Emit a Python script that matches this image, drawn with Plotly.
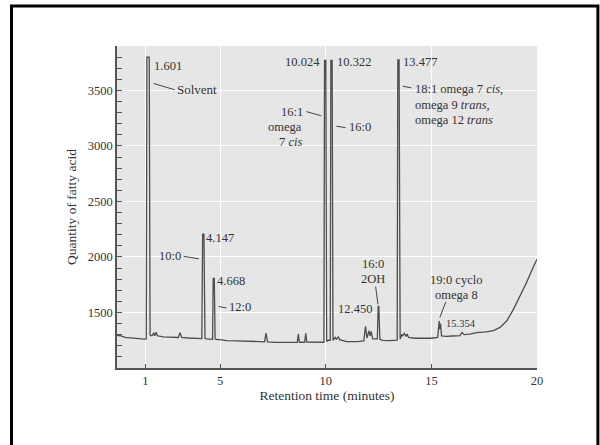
import plotly.graph_objects as go

# ---- data ----
time_min = [0.11, 0.3, 0.5, 0.8, 1.1, 1.40, 1.50,
            1.53, 1.64, 1.68, 1.72,
            1.80, 1.85, 1.90, 1.97, 2.03, 2.3, 2.7, 3.02, 3.10, 3.18, 3.5, 3.9, 4.13,
            4.17, 4.23, 4.28,
            4.35, 4.5, 4.64,
            4.67, 4.72, 4.76,
            4.85, 5.0, 5.3, 5.8, 6.3, 6.9, 7.1, 7.17, 7.24, 7.6, 8.0, 8.4, 8.65, 8.7, 8.75,
            9.0, 9.05, 9.1, 9.5, 9.91,
            9.94, 10.00, 10.04,
            10.12, 10.21,
            10.24, 10.30, 10.34,
            10.45, 10.5, 10.6, 10.65, 11.0, 11.5, 11.8, 11.88, 11.95, 12.05, 12.1, 12.15,
            12.22, 12.35, 12.44,
            12.48, 12.51, 12.56,
            12.7, 13.0, 13.35, 13.38,
            13.41, 13.47, 13.52,
            13.6, 13.65, 13.72, 13.8, 13.85, 13.92, 14.2, 14.6, 15.0, 15.3,
            15.37, 15.40, 15.43, 15.48,
            15.7, 16.0, 16.35, 16.45, 16.55, 16.8, 17.15, 17.6, 17.94, 18.25, 18.57,
            18.89, 19.2, 19.5, 19.84, 20.0]
quantity = [1295, 1290, 1275, 1268, 1262, 1260, 1262,
            3800, 3800, 1300, 1290,
            1295, 1318, 1290, 1322, 1290, 1280, 1278, 1275, 1318, 1276, 1270, 1268, 1265,
            2206, 2206, 1268,
            1262, 1260, 1258,
            1808, 1808, 1262,
            1255, 1255, 1246, 1245, 1240, 1235, 1236, 1315, 1236, 1230, 1228, 1228, 1230, 1305, 1232,
            1232, 1312, 1234, 1232, 1232,
            3770, 3770, 1240,
            1250, 1250,
            3770, 3770, 1250,
            1275, 1260, 1280, 1255, 1238, 1238, 1245, 1375, 1270, 1335, 1290, 1330,
            1262, 1260, 1262,
            1554, 1554, 1258,
            1248, 1246, 1248, 1250,
            3775, 3775, 1260,
            1300, 1290, 1312, 1285, 1305, 1275, 1268, 1268, 1268, 1275,
            1422, 1350, 1400, 1290,
            1285, 1288, 1292, 1320, 1300, 1305, 1318, 1325, 1336, 1366, 1425,
            1530, 1648, 1768, 1917, 1980]

x_tick_vals = [1.46, 5, 10, 15, 20]
x_tick_text = ["1", "5", "10", "15", "20"]
y_tick_vals = [1500, 2000, 2500, 3000, 3500]
y_minor_vals = list(range(1000, 3901, 100))

# peak / compound labels
label_text = ["1.601", "Solvent", "10.024", "10.322", "13.477",
              "16:1", "omega", "7 <i>cis</i>", "16:0",
              "18:1 omega 7 <i>cis</i>,", "omega 9 <i>trans</i>,", "omega 12 <i>trans</i>",
              "10:0", "4.147", "4.668", "12:0",
              "16:0", "2OH", "12.450", "19:0 cyclo", "omega 8", "15.354"]
label_x = [1.80, 2.93, 9.76, 10.47, 13.61,
           8.97, 8.92, 8.92, 11.05,
           14.18, 14.18, 14.18,
           3.21, 4.30, 4.82, 5.37,
           12.24, 12.24, 12.24, 16.18, 16.18, 15.63]
label_y = [3721, 3512, 3759, 3759, 3759,
           3309, 3172, 3035, 3169,
           3510, 3373, 3236,
           2012, 2171, 1783, 1545,
           1935, 1798, 1530, 1792, 1655, 1402]
label_anchor = ["left", "left", "right", "left", "left",
                "right", "right", "right", "left",
                "left", "left", "left",
                "right", "left", "left", "left",
                "center", "center", "right", "center", "center", "left"]
label_size = [12.5, 13, 12.5, 12.5, 12.5,
              12.5, 12.5, 12.5, 12.5,
              12.5, 12.5, 12.5,
              12.5, 12.5, 12.5, 12.5,
              12.5, 12.5, 12.5, 12.5, 12.5, 10.5]

# leader lines: x0, y0, x1, y1
lead_x0 = [1.85, 9.08, 10.50, 13.65, 3.27, 4.93, 12.36, 15.68]
lead_y0 = [3562, 3309, 3178, 3538, 2006, 1554, 1733, 1595]
lead_x1 = [2.85, 9.79, 10.94, 14.05, 3.99, 5.29, 12.47, 15.40]
lead_y1 = [3506, 3271, 3164, 3523, 1983, 1541, 1574, 1455]

FONT = "Liberation Serif"
TXT = "#333333"

fig = go.Figure()
fig.add_trace(go.Scatter(x=time_min, y=quantity, mode="lines",
                         line=dict(color="#4d4d4d", width=1.3),
                         hoverinfo="skip", showlegend=False))

for t, x, y, a, s in zip(label_text, label_x, label_y, label_anchor, label_size):
    fig.add_annotation(x=x, y=y, xref="x", yref="y", text=t, showarrow=False,
                       xanchor=a, yanchor="middle", borderpad=0,
                       font=dict(family=FONT, size=s, color=TXT))

for x0, y0, x1, y1 in zip(lead_x0, lead_y0, lead_x1, lead_y1):
    fig.add_shape(type="line", xref="x", yref="y", x0=x0, y0=y0, x1=x1, y1=y1,
                  line=dict(color="#444444", width=1))

# outer frame
fig.add_shape(type="rect", xref="paper", yref="paper",
              x0=-0.2512, x1=1.145, y0=-0.3, y1=1.124,
              line=dict(color="black", width=3), layer="below")

fig.update_layout(
    width=600, height=445,
    margin=dict(l=117, r=63, t=46, b=77),
    paper_bgcolor="white", plot_bgcolor="#e6e6e6",
    font=dict(family=FONT, size=12.5, color=TXT),
    showlegend=False,
)
fig.update_xaxes(range=[0.114, 20], tickmode="array", tickvals=x_tick_vals, ticktext=x_tick_text,
                 ticks="inside", ticklen=4, tickcolor="#555555", tickwidth=1,
                 showline=True, linecolor="#555555", linewidth=1.5,
                 showgrid=True, gridcolor="white", gridwidth=1, zeroline=False,
                 tickfont=dict(family=FONT, size=12.5, color=TXT),
                 title=dict(text="Retention time (minutes)", standoff=4,
                            font=dict(family=FONT, size=13.5, color=TXT)))
fig.update_yaxes(range=[1000, 3900], tickmode="array", tickvals=y_tick_vals,
                 ticks="inside", ticklen=5, tickcolor="#555555", tickwidth=1,
                 minor=dict(tickmode="array", tickvals=y_minor_vals, ticks="inside",
                            ticklen=5, tickcolor="#555555", showgrid=False),
                 showline=True, linecolor="#555555", linewidth=1.5,
                 showgrid=True, gridcolor="white", gridwidth=1, zeroline=False,
                 tickfont=dict(family=FONT, size=12.5, color=TXT),
                 title=dict(text="Quantity of fatty acid", standoff=8,
                            font=dict(family=FONT, size=13.5, color=TXT)))

fig.write_html("out.html")
